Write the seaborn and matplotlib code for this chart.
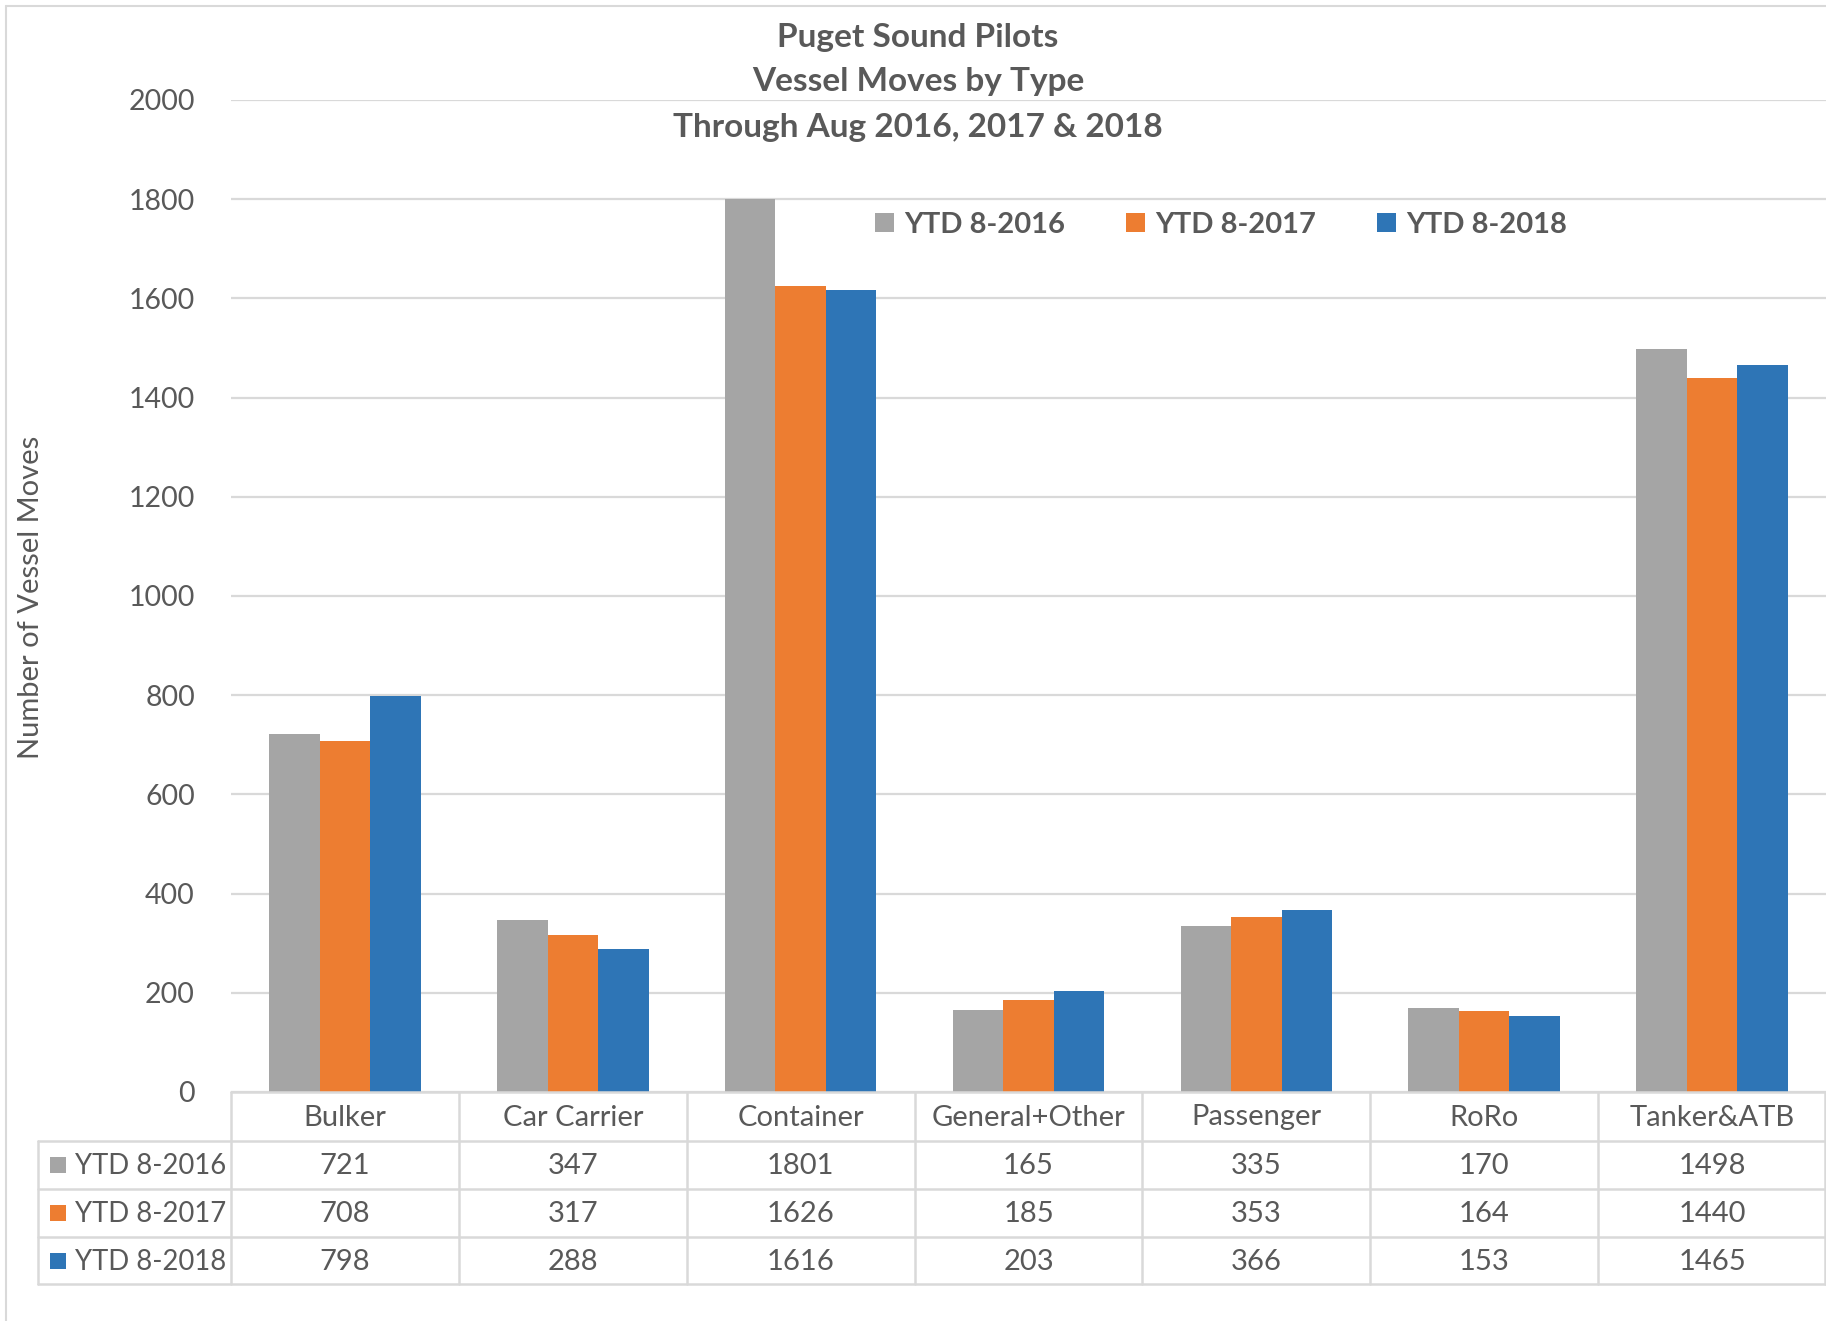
import matplotlib
matplotlib.use("Agg")
import matplotlib.pyplot as plt
from matplotlib.patches import Rectangle
from matplotlib.lines import Line2D
import seaborn as sns
import pandas as pd

categories = ["Bulker", "Car Carrier", "Container", "General+Other", "Passenger", "RoRo", "Tanker&ATB"]
series_names = ["YTD 8-2016", "YTD 8-2017", "YTD 8-2018"]
ytd_2016 = [721, 347, 1801, 165, 335, 170, 1498]
ytd_2017 = [708, 317, 1626, 185, 353, 164, 1440]
ytd_2018 = [798, 288, 1616, 203, 366, 153, 1465]
colors = ["#A5A5A5", "#ED7D31", "#2E75B6"]
title_lines = ["Puget Sound Pilots", "Vessel Moves by Type", "Through Aug 2016, 2017 & 2018"]
y_label = "Number of Vessel Moves"

series_values = [ytd_2016, ytd_2017, ytd_2018]
rows = []
for name, vals in zip(series_names, series_values):
    for c, v in zip(categories, vals):
        rows.append({"Type": c, "Series": name, "Moves": v})
df = pd.DataFrame(rows)

sns.set_theme(style="white")
plt.rcParams["font.family"] = ["Lato", "DejaVu Sans"]
TXT = "#595959"
GRID = "#D9D9D9"

W, H = 1826, 1321
fig = plt.figure(figsize=(W / 100, H / 100), dpi=100)
fig.patch.set_facecolor("white")

x0, x1 = 231, 1826
y_top, y_zero = 100, 1092
ax = fig.add_axes([x0 / W, 1 - y_zero / H, (x1 - x0) / W, (y_zero - y_top) / H])

sns.barplot(data=df, x="Type", y="Moves", hue="Series", order=categories,
            hue_order=series_names, palette=colors, width=0.665, saturation=1,
            ax=ax, edgecolor="none", linewidth=0)

ax.set_xlim(-0.5, len(categories) - 0.5)
ax.set_ylim(0, 2000)
ax.set_yticks(range(0, 2001, 200))
ax.yaxis.grid(True, color=GRID, linewidth=1.6)
ax.set_axisbelow(True)
for s in ax.spines.values():
    s.set_visible(False)
ax.set_xticks([])
ax.set_xlabel("")
ax.set_ylabel("")
ax.tick_params(axis="y", length=0, pad=26, labelsize=20.5, labelcolor=TXT)
for lab in ax.get_yticklabels():
    lab.set_color(TXT)

# y label
fig.text(31 / W, 1 - 597 / H, y_label, rotation=90, ha="center", va="center",
         fontsize=21, color=TXT)

# title
for i, t in enumerate(title_lines):
    fig.text(918 / W, 1 - (37 + 45 * i) / H, t, ha="center", va="center",
             fontsize=24, fontweight="bold", color=TXT)

# legend
handles, labels = ax.get_legend_handles_labels()
ax.legend(handles, labels, loc="center", bbox_to_anchor=(1221 / W, 1 - 225 / H),
          bbox_transform=fig.transFigure, ncol=3, frameon=False,
          prop={"size": 21, "weight": "bold"}, labelcolor=TXT,
          handlelength=0.65, handleheight=0.65, handletextpad=0.35,
          columnspacing=2.1)

# data table
row_y = [1092, 1141, 1189, 1237, 1284]
tbl_left = 38
col_w = (x1 - x0) / len(categories)
def fy(p):
    return 1 - p / H
def fx(p):
    return p / W

lines = []
lines.append(Line2D([fx(x0), fx(x1)], [fy(row_y[0])] * 2))
for ry in row_y[1:]:
    lines.append(Line2D([fx(tbl_left), fx(x1)], [fy(ry)] * 2))
for k in range(len(categories) + 1):
    xx = x0 + k * col_w
    if k == len(categories):
        xx = x1 - 1
    lines.append(Line2D([fx(xx)] * 2, [fy(row_y[0]), fy(row_y[-1])]))
lines.append(Line2D([fx(tbl_left)] * 2, [fy(row_y[1]), fy(row_y[-1])]))
for ln in lines:
    ln.set_color(GRID)
    ln.set_linewidth(1.8)
    ln.set_transform(fig.transFigure)
    fig.add_artist(ln)

for k, c in enumerate(categories):
    cx = x0 + (k + 0.5) * col_w
    fig.text(fx(cx), fy((row_y[0] + row_y[1]) / 2 + 1), c, ha="center", va="center",
             fontsize=21, color=TXT)
    for r, vals in enumerate(series_values):
        fig.text(fx(cx), fy((row_y[r + 1] + row_y[r + 2]) / 2 + 1), str(vals[k]),
                 ha="center", va="center", fontsize=21, color=TXT)

for r, (name, col) in enumerate(zip(series_names, colors)):
    cy = (row_y[r + 1] + row_y[r + 2]) / 2
    sq = 16
    fig.add_artist(Rectangle((fx(50), fy(cy + sq / 2)), sq / W, sq / H,
                             transform=fig.transFigure, color=col, lw=0))
    fig.text(fx(75), fy(cy + 1), name, ha="left", va="center", fontsize=19.8, color=TXT)

# chart border
for ln in [Line2D([fx(6)] * 2, [fy(6), 0]), Line2D([fx(6), 1], [fy(6)] * 2)]:
    ln.set_color(GRID)
    ln.set_linewidth(1.5)
    ln.set_transform(fig.transFigure)
    fig.add_artist(ln)

fig.savefig("out.png", dpi=100, facecolor="white")
